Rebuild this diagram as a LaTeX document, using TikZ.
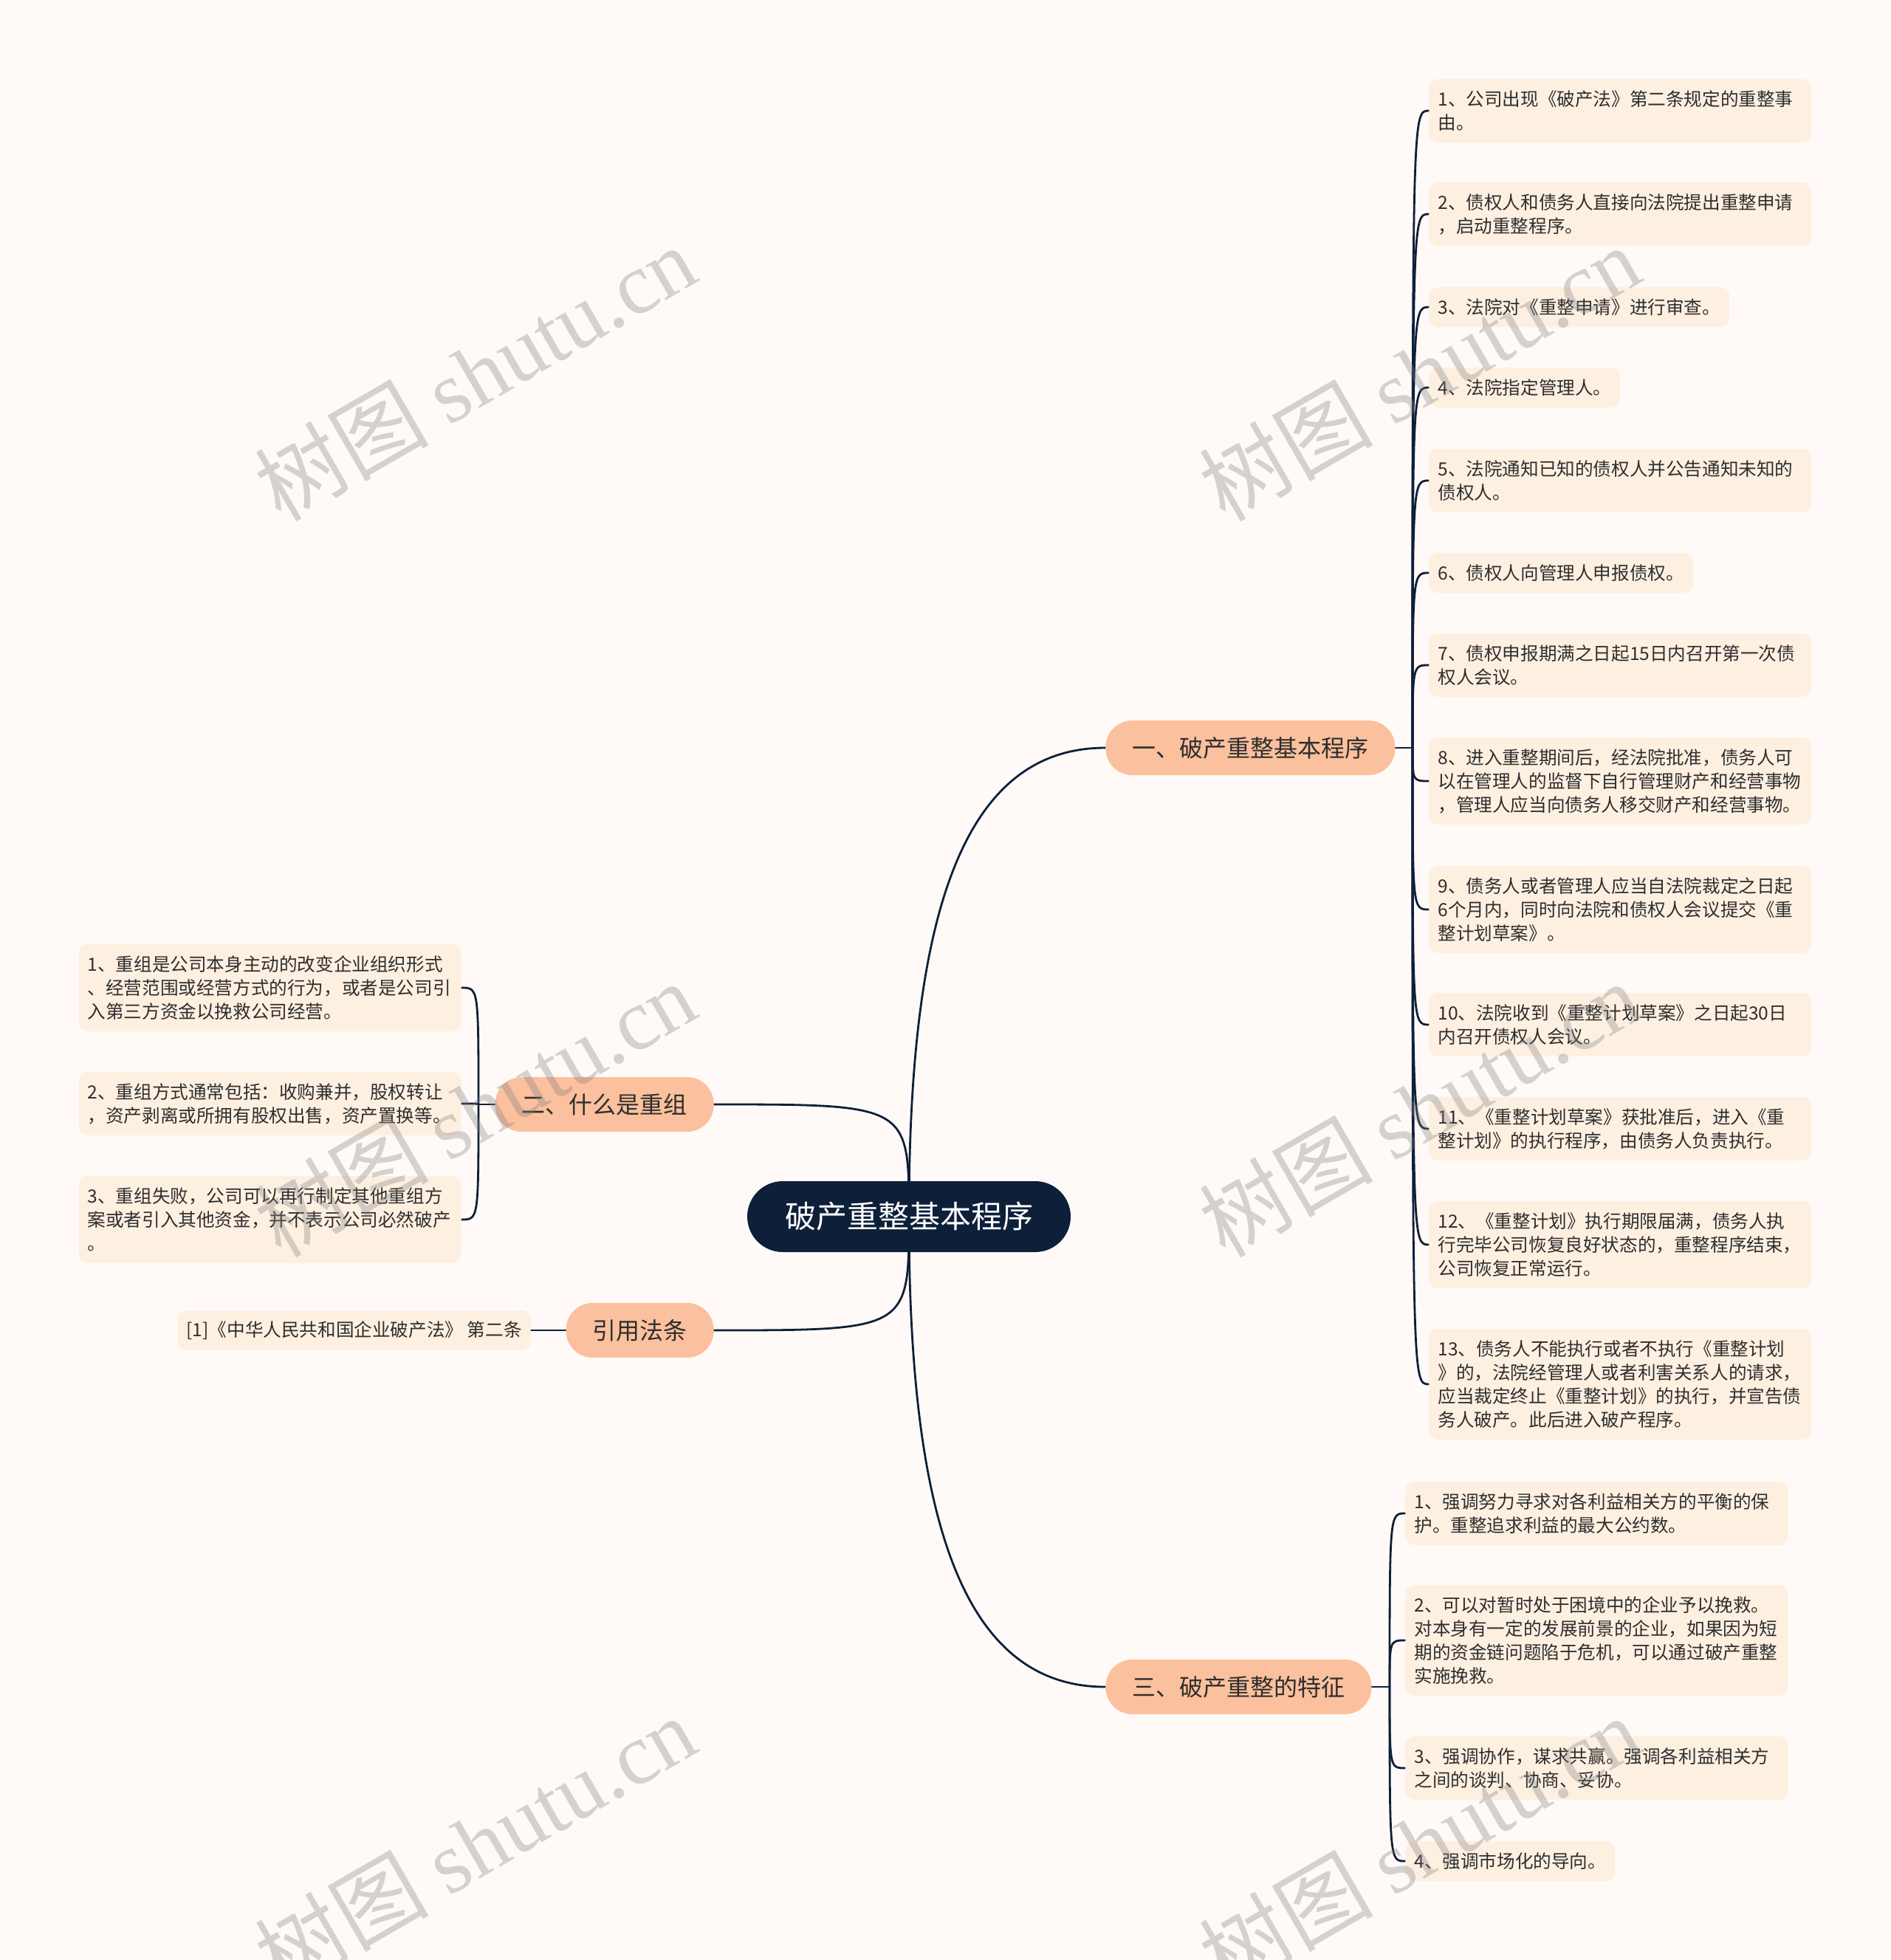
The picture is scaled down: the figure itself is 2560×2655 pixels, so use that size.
\documentclass[tikz,border=0pt]{standalone}
\usepackage{fontspec}
\usetikzlibrary{calc}
\setmainfont{Noto Sans CJK SC}
\newfontfamily\wmcjk{Noto Sans CJK SC}
\newfontfamily\wmserif{Liberation Serif}
\definecolor{bgc}{HTML}{FFFAF7}
\definecolor{leafc}{HTML}{FDF0E1}
\definecolor{topicc}{HTML}{FBC09D}
\definecolor{rootc}{HTML}{0E1F3A}
\definecolor{linec}{HTML}{0E1F3A}
\definecolor{txtc}{HTML}{2E2E2E}
\newcommand\leaffont{\fontsize{12.3pt}{16pt}\selectfont}
\pgfdeclarelayer{bglayer}
\pgfsetlayers{bglayer,main}
\tikzset{
  leaf/.style={fill=leafc, rounded corners=6pt, inner xsep=6pt, inner ysep=0pt,
    font=\leaffont, text=txtc, align=left},
  wide/.style={text width=247pt},
  nlines/.style={minimum height=16pt*#1+11pt},
  topic/.style={fill=topicc, rounded corners=18pt, minimum height=37pt, inner xsep=18pt,
    inner ysep=0pt, text=txtc, font=\fontsize{16pt}{19pt}\selectfont},
  rootbox/.style={fill=rootc, rounded corners=24pt, minimum height=48pt, inner xsep=25.5pt,
    inner ysep=0pt, text=white, font=\fontsize{21pt}{25pt}\selectfont},
  conn/.style={draw=linec, line width=1.4pt, line cap=round},
  wm/.style={rotate=30, text=gray, opacity=0.33, font=\fontsize{59pt}{66pt}\selectfont}
}
\begin{document}
\begin{tikzpicture}[x=0.5pt,y=-0.5pt]
\begin{pgfonlayer}{bglayer}
\fill[bgc] (0,0) rectangle (2560,2655);
\end{pgfonlayer}
\useasboundingbox (0,0) rectangle (2560,2655);

% root and main topics
\node[rootbox] (root) at (1231,1648) {破产重整基本程序};
\node[topic, anchor=west] (t1) at (1497,1013) {一、破产重整基本程序};
\node[topic, anchor=east] (t2) at (967,1496) {二、什么是重组};
\node[topic, anchor=east] (t4) at (967,1802) {引用法条};
\node[topic, anchor=west] (t3) at (1497,2285) {三、破产重整的特征};

\coordinate (j1) at (1913,1013);
\coordinate (j2) at (648,1496);
\coordinate (j3) at (1882,2285);

% branch 1 leaves
\node[leaf, wide, nlines=2, anchor=west] (a1) at (1935,150) {1、公司出现《破产法》第二条规定的重整事\\由。};
\node[leaf, wide, nlines=2, anchor=west] (a2) at (1935,290) {2、债权人和债务人直接向法院提出重整申请\\，启动重整程序。};
\node[leaf, nlines=1, anchor=west] (a3) at (1935,416) {3、法院对《重整申请》进行审查。};
\node[leaf, nlines=1, anchor=west] (a4) at (1935,525) {4、法院指定管理人。};
\node[leaf, wide, nlines=2, anchor=west] (a5) at (1935,651) {5、法院通知已知的债权人并公告通知未知的\\债权人。};
\node[leaf, nlines=1, anchor=west] (a6) at (1935,776) {6、债权人向管理人申报债权。};
\node[leaf, wide, nlines=2, anchor=west] (a7) at (1935,901) {7、债权申报期满之日起15日内召开第一次债\\权人会议。};
\node[leaf, wide, nlines=3, anchor=west] (a8) at (1935,1058) {8、进入重整期间后，经法院批准，债务人可\\以在管理人的监督下自行管理财产和经营事物\\，管理人应当向债务人移交财产和经营事物。};
\node[leaf, wide, nlines=3, anchor=west] (a9) at (1935,1232) {9、债务人或者管理人应当自法院裁定之日起\\6个月内，同时向法院和债权人会议提交《重\\整计划草案》。};
\node[leaf, wide, nlines=2, anchor=west] (a10) at (1935,1388) {10、法院收到《重整计划草案》之日起30日\\内召开债权人会议。};
\node[leaf, wide, nlines=2, anchor=west] (a11) at (1935,1529) {11、《重整计划草案》获批准后，进入《重\\整计划》的执行程序，由债务人负责执行。};
\node[leaf, wide, nlines=3, anchor=west] (a12) at (1935,1686) {12、《重整计划》执行期限届满，债务人执\\行完毕公司恢复良好状态的，重整程序结束，\\公司恢复正常运行。};
\node[leaf, wide, nlines=4, anchor=west] (a13) at (1935,1875) {13、债务人不能执行或者不执行《重整计划\\》的，法院经管理人或者利害关系人的请求，\\应当裁定终止《重整计划》的执行，并宣告债\\务人破产。此后进入破产程序。};

% branch 2 leaves
\node[leaf, wide, nlines=3, anchor=east] (b1) at (625,1338) {1、重组是公司本身主动的改变企业组织形式\\、经营范围或经营方式的行为，或者是公司引\\入第三方资金以挽救公司经营。};
\node[leaf, wide, nlines=2, anchor=east] (b2) at (625,1495) {2、重组方式通常包括：收购兼并，股权转让\\，资产剥离或所拥有股权出售，资产置换等。};
\node[leaf, wide, nlines=3, anchor=east] (b3) at (625,1652) {3、重组失败，公司可以再行制定其他重组方\\案或者引入其他资金，并不表示公司必然破产\\。};

% citation leaf
\node[leaf, nlines=1, anchor=east] (c1) at (719,1802) {[1]《中华人民共和国企业破产法》 第二条};

% branch 3 leaves
\node[leaf, wide, nlines=2, anchor=west] (d1) at (1903,2050) {1、强调努力寻求对各利益相关方的平衡的保\\护。重整追求利益的最大公约数。};
\node[leaf, wide, nlines=4, anchor=west] (d2) at (1903,2222) {2、可以对暂时处于困境中的企业予以挽救。\\对本身有一定的发展前景的企业，如果因为短\\期的资金链问题陷于危机，可以通过破产重整\\实施挽救。};
\node[leaf, wide, nlines=2, anchor=west] (d3) at (1903,2395) {3、强调协作，谋求共赢。强调各利益相关方\\之间的谈判、协商、妥协。};
\node[leaf, nlines=1, anchor=west] (d4) at (1903,2521) {4、强调市场化的导向。};

\begin{pgfonlayer}{bglayer}
% connectors from root (from its centre, hidden under it)
\draw[conn] (root.center)
  .. controls ($(root.center |- t1.west)!0.37!(root.center)$) and ($(root.center |- t1.west)!0.26!(t1.west)$)
  .. (t1.west);
\draw[conn] (root.center) .. controls (root.center |- t2.east) .. (t2.east);
\draw[conn] (root.center) .. controls (root.center |- t4.east) .. (t4.east);
\draw[conn] (root.center)
  .. controls ($(root.center |- t3.west)!0.37!(root.center)$) and ($(root.center |- t3.west)!0.26!(t3.west)$)
  .. (t3.west);

% branch connectors
\draw[conn] (t1.east) -- (j1);
\foreach \n in {a1,a2,a3,a4,a5,a6,a7,a8,a9,a10,a11,a12,a13}
  \draw[conn] (j1) .. controls (j1 |- \n.west) .. (\n.west);
\draw[conn] (t2.west) -- (j2);
\foreach \n in {b1,b2,b3}
  \draw[conn] (j2) .. controls (j2 |- \n.east) .. (\n.east);
\draw[conn] (t4.west) -- (c1.east);
\draw[conn] (t3.east) -- (j3);
\foreach \n in {d1,d2,d3,d4}
  \draw[conn] (j3) .. controls (j3 |- \n.west) .. (\n.west);
\end{pgfonlayer}

% watermarks
\node[wm] (w1) at (643,505) {{\wmcjk 树图} {\wmserif shutu.cn}};
\node[wm] (w2) at (1922,505) {{\wmcjk 树图} {\wmserif shutu.cn}};
\node[wm] (w3) at (643,1502) {{\wmcjk 树图} {\wmserif shutu.cn}};
\node[wm] (w4) at (1922,1502) {{\wmcjk 树图} {\wmserif shutu.cn}};
\node[wm] (w5) at (643,2497) {{\wmcjk 树图} {\wmserif shutu.cn}};
\node[wm] (w6) at (1922,2497) {{\wmcjk 树图} {\wmserif shutu.cn}};
\end{tikzpicture}
\end{document}
